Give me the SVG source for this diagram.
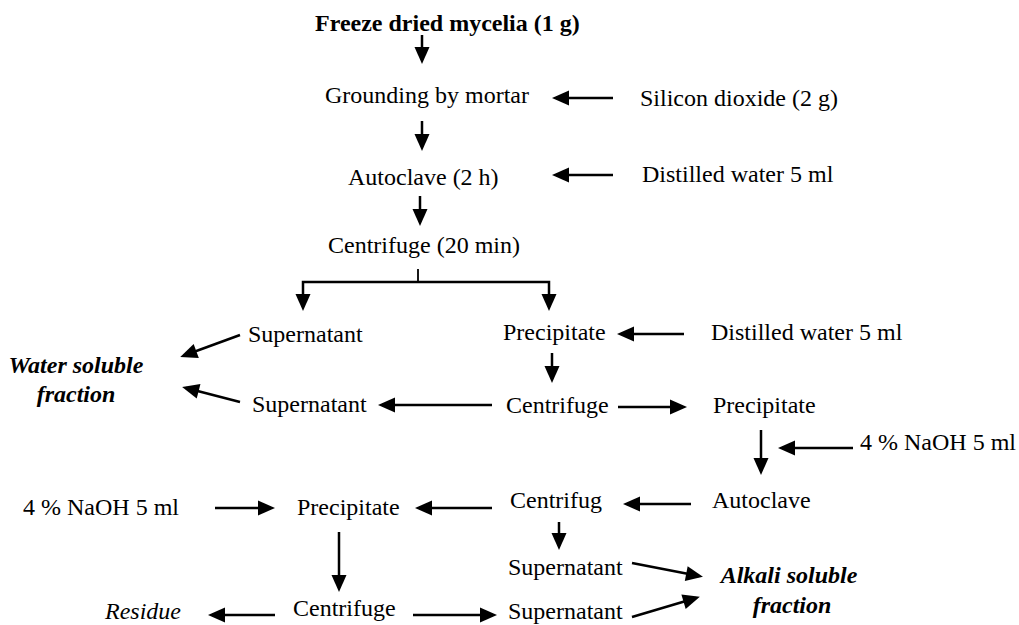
<svg xmlns="http://www.w3.org/2000/svg" width="1019" height="625" viewBox="0 0 1019 625">
<style>
text{font-family:"Liberation Serif","Times New Roman",serif;font-size:24px;fill:#000}
.b{font-weight:bold}
.bi{font-weight:bold;font-style:italic}
.i{font-style:italic}
.c line,.c path{stroke:#000;stroke-width:2.5;fill:none}
.c .a{marker-end:url(#ah)}
</style>
<defs>
<marker id="ah" markerUnits="userSpaceOnUse" markerWidth="17" markerHeight="15" refX="13" refY="7.5" orient="auto" overflow="visible">
<path d="M0,0 L17,7.5 L0,15 z" fill="#000" stroke="none"/>
</marker>
</defs>
<rect width="1019" height="625" fill="#fff"/>
<g id="n-freeze"><text class="b" x="315" y="31">Freeze dried mycelia (1 g)</text></g>
<g id="n-grounding"><text x="325" y="103">Grounding by mortar</text></g>
<g id="n-silicon"><text x="640" y="106">Silicon dioxide (2 g)</text></g>
<g id="n-autoclave1"><text x="348" y="185">Autoclave (2 h)</text></g>
<g id="n-water1"><text x="642" y="182">Distilled water 5 ml</text></g>
<g id="n-centrifuge1"><text x="328" y="253">Centrifuge (20 min)</text></g>
<g id="n-super1"><text x="248" y="342">Supernatant</text></g>
<g id="n-precip1"><text x="503" y="340">Precipitate</text></g>
<g id="n-water2"><text x="711" y="340">Distilled water 5 ml</text></g>
<g id="n-wsf"><text class="bi" x="76" y="373" text-anchor="middle">Water soluble</text><text class="bi" x="76" y="402" text-anchor="middle">fraction</text></g>
<g id="n-super2"><text x="252" y="412">Supernatant</text></g>
<g id="n-centrifuge2"><text x="506" y="413">Centrifuge</text></g>
<g id="n-precip2"><text x="713" y="413">Precipitate</text></g>
<g id="n-naoh1"><text x="860" y="450">4 % NaOH 5 ml</text></g>
<g id="n-autoclave2"><text x="712" y="508">Autoclave</text></g>
<g id="n-centrifug"><text x="510" y="508">Centrifug</text></g>
<g id="n-precip3"><text x="297" y="515">Precipitate</text></g>
<g id="n-naoh2"><text x="23" y="515">4 % NaOH 5 ml</text></g>
<g id="n-super3"><text x="508" y="575">Supernatant</text></g>
<g id="n-asf"><text class="bi" x="789" y="583" text-anchor="middle">Alkali soluble</text><text class="bi" x="792" y="613" text-anchor="middle">fraction</text></g>
<g id="n-residue"><text class="i" x="105" y="619">Residue</text></g>
<g id="n-centrifuge3"><text x="293" y="616">Centrifuge</text></g>
<g id="n-super4"><text x="508" y="619">Supernatant</text></g>
<g id="connectors" class="c">
<line class="a" x1="422" y1="35" x2="422" y2="60"/>
<line class="a" x1="613" y1="98" x2="556" y2="98"/>
<line class="a" x1="422" y1="121" x2="422" y2="147"/>
<line class="a" x1="613" y1="175" x2="556" y2="175"/>
<line class="a" x1="420" y1="196" x2="420" y2="222"/>
<line x1="418" y1="269" x2="418" y2="282" style="stroke-width:1.8"/>
<path class="a" d="M418,282 H303 V307"/>
<path class="a" d="M418,282 H549 V307"/>
<line class="a" x1="240" y1="335" x2="184" y2="355.5"/>
<line class="a" x1="684" y1="334" x2="621" y2="334"/>
<line class="a" x1="552" y1="353" x2="552" y2="379"/>
<line class="a" x1="492" y1="405" x2="382" y2="405"/>
<line class="a" x1="240" y1="402" x2="186" y2="388"/>
<line class="a" x1="618" y1="407" x2="683" y2="407"/>
<line class="a" x1="761" y1="430" x2="761" y2="471"/>
<line class="a" x1="853" y1="448" x2="782" y2="448"/>
<line class="a" x1="691" y1="504" x2="627" y2="504"/>
<line class="a" x1="492" y1="508" x2="419" y2="508"/>
<line class="a" x1="215" y1="508" x2="271" y2="508"/>
<line class="a" x1="559" y1="522" x2="559" y2="546"/>
<line class="a" x1="339" y1="532" x2="339" y2="588"/>
<line class="a" x1="632" y1="563" x2="699" y2="576"/>
<line class="a" x1="275" y1="615" x2="212" y2="615"/>
<line class="a" x1="413" y1="615" x2="493" y2="615"/>
<line class="a" x1="632" y1="617" x2="696" y2="598"/>
</g>
</svg>
